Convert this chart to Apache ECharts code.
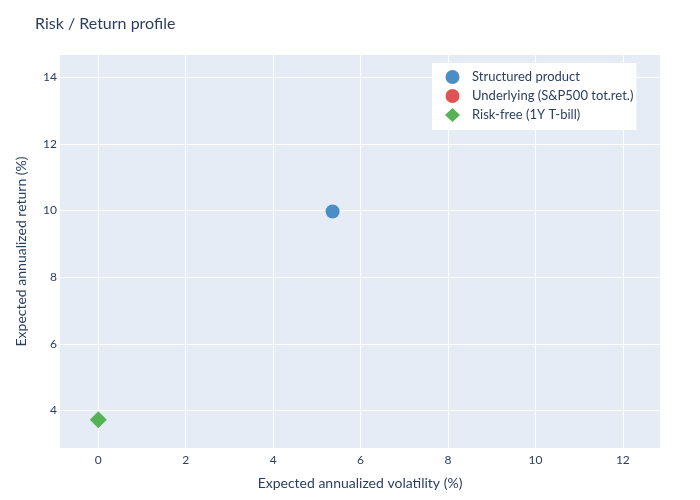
<!DOCTYPE html>
<html>
<head>
<meta charset="utf-8">
<script src="https://cdn.jsdelivr.net/npm/echarts@6/dist/echarts.min.js"></script>
<style>
  html, body { margin: 0; padding: 0; background: #fff; }
  #chart { width: 700px; height: 500px; }
</style>
</head>
<body>
<div id="chart"></div>
<script>
// Data
const seriesNames = ['Structured product', 'Underlying (S&P500 tot.ret.)', 'Risk-free (1Y T-bill)'];
const volatility = [5.36, 11.9, 0];   // x, %
const expReturn = [9.97, 13.85, 3.72]; // y, %
const xTicks = [0, 2, 4, 6, 8, 10, 12];
const yTicks = [4, 6, 8, 10, 12, 14];

const colors = ['#4a8fc4', '#e05354', '#56b256'];
const symbols = ['circle', 'circle', 'diamond'];
const symbolSizes = [14, 14, 17];

const font = 'Lato';
const textColor = '#2a3f5f';

var myChart = echarts.init(document.getElementById('chart'));

var option = {
  animation: false,
  title: {
    text: 'Risk / Return profile',
    left: 30,
    top: 11,
    textStyle: { fontFamily: font, fontSize: 16, fontWeight: 'normal', color: textColor },
  },
  legend: {
    orient: 'vertical',
    left: 432,
    top: 63,
    backgroundColor: '#fff',
    padding: [7, 3, 8, 13],
    itemWidth: 15,
    itemHeight: 14,
    itemGap: 5,
    textStyle: { fontFamily: font, fontSize: 13, color: textColor, padding: [0, 0, 0, 7] },
    data: seriesNames,
  },
  grid: {
    left: 60,
    right: 40,
    top: 55,
    bottom: 52,
    show: true,
    backgroundColor: '#e5ecf6',
    borderWidth: 0,
  },
  xAxis: {
    type: 'value',
    min: -0.876,
    max: 12.85,
    name: 'Expected annualized volatility (%)',
    nameLocation: 'middle',
    nameGap: 28,
    nameTextStyle: { fontFamily: font, fontSize: 14, color: textColor },
    axisLine: { show: false },
    axisTick: { show: false, customValues: xTicks },
    axisLabel: { fontFamily: font, fontSize: 12, color: textColor, margin: 6, customValues: xTicks },
    splitLine: { lineStyle: { color: '#fff', width: 1 } },
  },
  yAxis: {
    type: 'value',
    min: 2.87,
    max: 14.67,
    name: 'Expected annualized return (%)',
    nameLocation: 'middle',
    nameGap: 32,
    nameTextStyle: { fontFamily: font, fontSize: 14, color: textColor },
    axisLine: { show: false },
    axisTick: { show: false, customValues: yTicks },
    axisLabel: { fontFamily: font, fontSize: 12, color: textColor, margin: 3, customValues: yTicks },
    splitLine: { lineStyle: { color: '#fff', width: 1 } },
  },
  series: seriesNames.map((name, i) => ({
    name: name,
    type: 'scatter',
    symbol: symbols[i],
    symbolSize: symbolSizes[i],
    itemStyle: { color: colors[i], opacity: 1 },
    data: [[volatility[i], expReturn[i]]],
  })),
};

option && myChart.setOption(option);
</script>
</body>
</html>
